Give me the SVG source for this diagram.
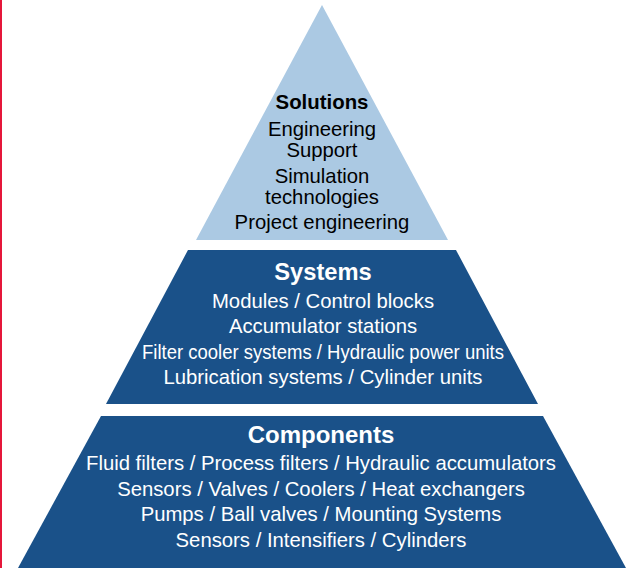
<svg xmlns="http://www.w3.org/2000/svg" width="635" height="568" viewBox="0 0 635 568">
<style>
.t{font-family:"Liberation Sans",Arial,sans-serif;font-size:20.3px;text-anchor:middle}
.h{font-family:"Liberation Sans",Arial,sans-serif;font-weight:bold;text-anchor:middle}
.dk{fill:#1a5189}
.lt{fill:#abc9e3}
.w{fill:#ffffff}
.b{fill:#000000}
</style>
<rect width="635" height="568" fill="#ffffff"/>
<rect x="0" y="0" width="2" height="568" fill="#e5173a"/>
<g id="solutions">
<polygon class="lt" points="322,5 448,240 196,240"/>
<text class="h b" x="322" y="109" font-size="20.4">Solutions</text>
<text class="t b" x="322" y="136">Engineering</text>
<text class="t b" x="322" y="157">Support</text>
<text class="t b" x="322" y="183">Simulation</text>
<text class="t b" x="322" y="204">technologies</text>
<text class="t b" x="322" y="229">Project engineering</text>
</g>
<g id="systems">
<polygon class="dk" points="188,250 456,250 538,404 106,404"/>
<text class="h w" x="323" y="280" font-size="23.7">Systems</text>
<text class="t w" x="323" y="308">Modules / Control blocks</text>
<text class="t w" x="323" y="333">Accumulator stations</text>
<text class="t w" x="323" y="359" textLength="362" lengthAdjust="spacingAndGlyphs">Filter cooler systems / Hydraulic power units</text>
<text class="t w" x="323" y="384">Lubrication systems / Cylinder units</text>
</g>
<g id="components">
<polygon class="dk" points="101,416 543,416 626,568 18,568"/>
<text class="h w" x="321" y="443" font-size="24">Components</text>
<text class="t w" x="321" y="470">Fluid filters / Process filters / Hydraulic accumulators</text>
<text class="t w" x="321" y="496">Sensors / Valves / Coolers / Heat exchangers</text>
<text class="t w" x="321" y="521">Pumps / Ball valves / Mounting Systems</text>
<text class="t w" x="321" y="547">Sensors / Intensifiers / Cylinders</text>
</g>
<g id="connectors"></g>
</svg>
